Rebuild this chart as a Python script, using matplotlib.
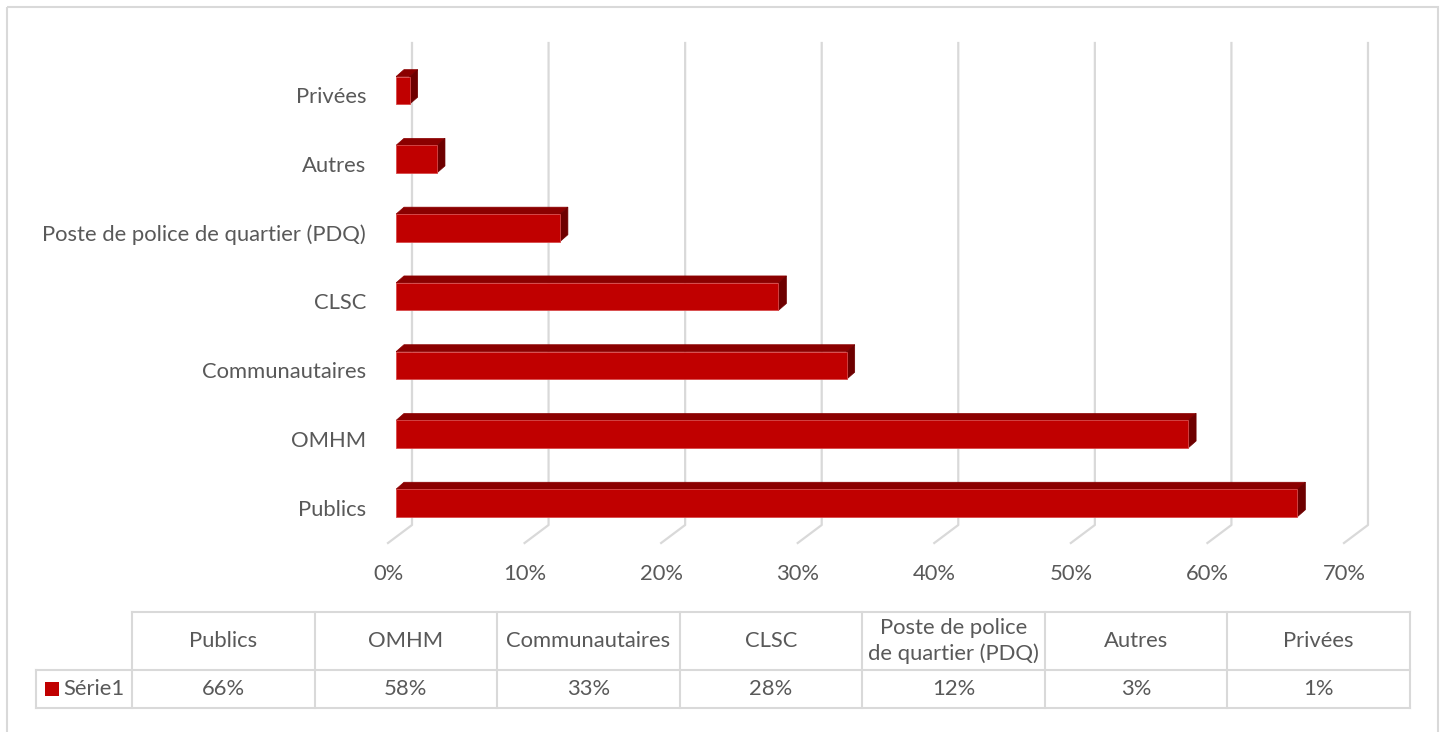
import matplotlib
matplotlib.use("Agg")
import matplotlib.pyplot as plt
from matplotlib.patches import Polygon, Rectangle
from matplotlib.lines import Line2D
import numpy as np

plt.rcParams['font.family'] = ['Lato', 'DejaVu Sans']

# Data (bottom to top in the chart)
categories = ["Publics", "OMHM", "Communautaires", "CLSC",
              "Poste de police de quartier (PDQ)", "Autres", "Privées"]
values = [66, 58, 33, 28, 12, 3, 1]
table_headers = ["Publics", "OMHM", "Communautaires", "CLSC",
                 "Poste de police\nde quartier (PDQ)", "Autres", "Privées"]
series_name = "Série1"
xticks = [0, 10, 20, 30, 40, 50, 60, 70]

W, H = 1443, 732
DPI = 100
TEXT = "#595959"
GRID = "#d9d9d9"
FRONT = "#c00000"
TOP = "#8b0000"
SIDE = "#6e0000"
FS = 15.8

fig = plt.figure(figsize=(W / DPI, H / DPI), dpi=DPI)

# Chart-area border
bg = fig.add_axes([0, 0, 1, 1])
bg.set_xlim(0, W)
bg.set_ylim(H, 0)
bg.axis("off")
bg.add_patch(Rectangle((7, 7), 1431, 740, fill=False, ec=GRID, lw=1.5))

# Main plotting axes (x: percent, y: category index)
ax_left_px, ax_bottom_px, ax_top_px = 396, 543, 43
ppx = 13.657          # pixels per percent
ppy = 68.77           # pixels per category
bar_center_px0 = 503  # front-face centre of the first category
ax_w_px = 70 * ppx
ylo = -(ax_bottom_px - bar_center_px0) / ppy
yhi = ylo + (ax_bottom_px - ax_top_px) / ppy

ax = fig.add_axes([ax_left_px / W, (H - ax_bottom_px) / H,
                   ax_w_px / W, (ax_bottom_px - ax_top_px) / H])
ax.set_xlim(0, 70)
ax.set_ylim(ylo, yhi)
ax.axis("off")

# 3-D geometry offsets (converted to data units)
wall_dx = 16 / ppx
wall_dy = 18 / ppy
floor_dx = 8 / ppx
bdx = 8 / ppx
bdy = 7 / ppy
bh = 27.5 / ppy

# Gridlines on the back wall, bending onto the floor
for t in xticks:
    xs = [t + wall_dx, t + wall_dx, t - floor_dx]
    ys = [yhi, ylo + wall_dy, ylo]
    ax.add_line(Line2D(xs, ys, color=GRID, lw=1.6, zorder=1, clip_on=False))
    ax.text(t - floor_dx, ylo - 31 / ppy, f"{t}%", ha="center", va="center",
            color=TEXT, fontsize=FS, clip_on=False)

# Bars with front, top and side faces
for i, v in enumerate(values):
    y0, y1 = i - bh / 2, i + bh / 2
    top = Polygon([(0, y1), (bdx, y1 + bdy), (v + bdx, y1 + bdy), (v, y1)],
                  closed=True, fc=TOP, ec=TOP, lw=0.5, zorder=3)
    side = Polygon([(v, y0), (v, y1), (v + bdx, y1 + bdy), (v + bdx, y0 + bdy)],
                   closed=True, fc=SIDE, ec=SIDE, lw=0.5, zorder=3)
    ax.add_patch(top)
    ax.add_patch(side)
    ax.barh(i, v, height=bh, left=0, color=FRONT, edgecolor="#d84a4a",
            lw=0.6, zorder=4)
    ax.text(-30 / ppx, i - 6.5 / ppy, categories[i], ha="right", va="center",
            color=TEXT, fontsize=FS, clip_on=False)

# Data table below the chart
col_l, col_r = 132, 1410
row_top, row_mid, row_bot = 612, 670, 708
leg_l = 36
ncol = len(table_headers)
cw = (col_r - col_l) / ncol
lk = dict(color=GRID, lw=1.5)
bg.plot([col_l, col_r], [row_top, row_top], **lk)
bg.plot([leg_l, col_r], [row_mid, row_mid], **lk)
bg.plot([leg_l, col_r], [row_bot, row_bot], **lk)
bg.plot([leg_l, leg_l], [row_mid, row_bot], **lk)
for k in range(ncol + 1):
    xk = col_l + k * cw
    bg.plot([xk, xk], [row_top, row_bot], **lk)
for k, (hdr, v) in enumerate(zip(table_headers, values)):
    xc = col_l + (k + 0.5) * cw
    bg.text(xc, (row_top + row_mid) / 2, hdr, ha="center", va="center",
            color=TEXT, fontsize=FS, linespacing=1.3)
    bg.text(xc, (row_mid + row_bot) / 2, f"{v}%", ha="center", va="center",
            color=TEXT, fontsize=FS)
bg.add_patch(Rectangle((45, 682), 14, 14, fc=FRONT, ec="none"))
bg.text(63, (row_mid + row_bot) / 2, series_name, ha="left", va="center",
        color=TEXT, fontsize=FS)

fig.savefig("out.png", dpi=DPI)
